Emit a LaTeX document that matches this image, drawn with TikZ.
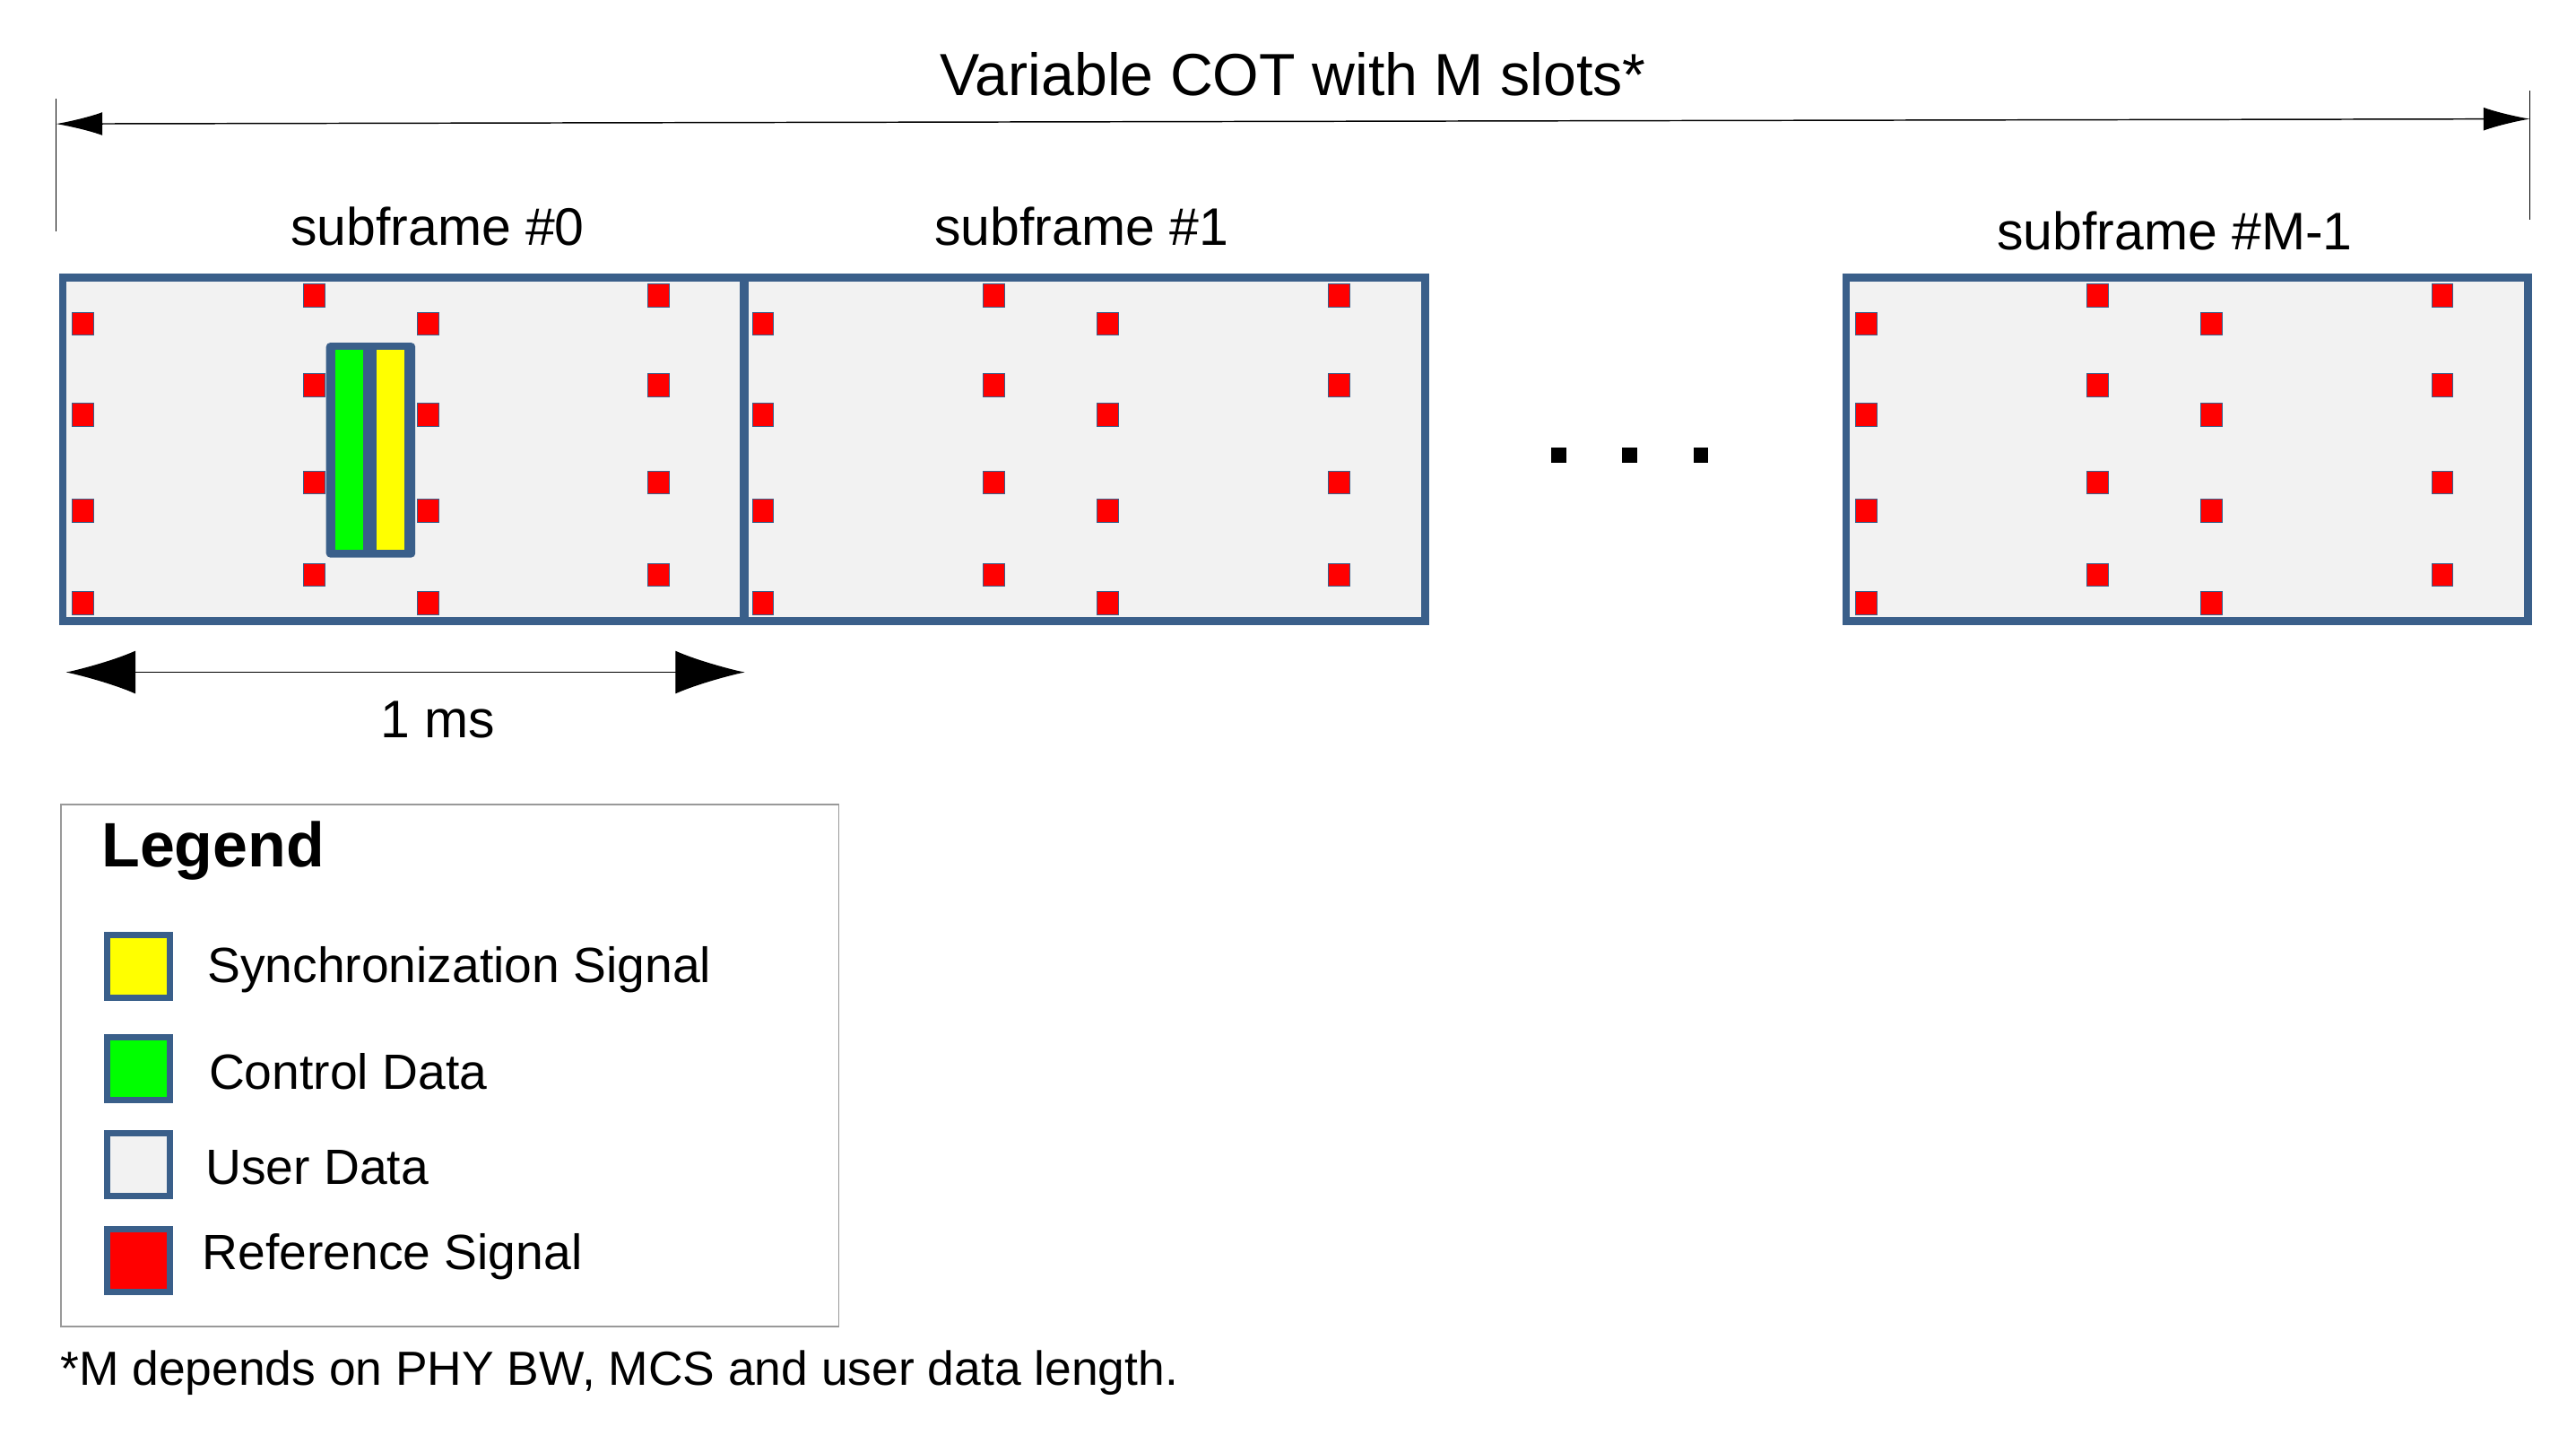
\documentclass[tikz,border=0pt]{standalone}
\usepackage{fontspec}
\setmainfont{Liberation Sans}
\usetikzlibrary{arrows.meta}
\definecolor{bd}{RGB}{58,95,138}
\definecolor{ud}{RGB}{242,242,242}
\definecolor{rs}{RGB}{255,0,0}
\definecolor{gr}{RGB}{0,255,0}
\definecolor{ye}{RGB}{255,255,0}
\begin{document}
\begin{tikzpicture}[x=1pt,y=-1pt,
  sf/.style={draw=bd,fill=ud,line width=4.5pt},
  rsq/.style={fill=rs,draw=bd,line width=0.4pt},
  sw/.style={draw=bd,line width=4pt,minimum width=38pt,minimum height=38pt,inner sep=0pt},
  lbl/.style={font=\fontsize{32}{36}\selectfont},
  lt/.style={font=\fontsize{30}{34}\selectfont,anchor=west}]
\useasboundingbox (0,0) rectangle (1560,874);
% subframes
\foreach \o/\n in {0/a,412/b,1080/c}{
  \draw[sf] (38+\o,168) rectangle (451+\o,376);
}
\foreach \o in {0,412,1080}{
  \foreach \y in {196,251,309,365}{
    \fill[rsq] (50+\o-6.5,\y-7) rectangle ++(13,14);
    \fill[rsq] (259+\o-6.5,\y-7) rectangle ++(13,14);}
  \foreach \y in {179,233,292,348}{
    \fill[rsq] (190+\o-6.5,\y-7) rectangle ++(13,14);
    \fill[rsq] (399+\o-6.5,\y-7) rectangle ++(13,14);}
}
\draw[bd,line width=4.5pt] (451,168) -- (451,376);
% sync block
\draw[draw=bd,fill=bd,line width=1pt,rounded corners=2pt] (198,208) rectangle (251,337);
\fill[gr] (203,212) rectangle (220,333);
\fill[ye] (228,212) rectangle (245,333);
% labels
\node[lbl] (t0) at (265,137) {subframe \#0};
\node[lbl] (t1) at (655,137) {subframe \#1};
\node[lbl] (t2) at (1317,140) {subframe \#M-1};
\node[font=\fontsize{36}{40}\selectfont] (title) at (783,45) {Variable COT with M slots*};
% top arrow
\coordinate (L) at (34,75); \coordinate (R) at (1532,72);
\draw[line width=0.6pt] (34,60) -- (34,140);
\draw[line width=0.6pt] (1532,55) -- (1532,133);
\draw[line width=0.8pt,{Latex[length=28pt,width=14pt]}-{Latex[length=28pt,width=14pt]}] (L) -- (R);
% dots
\foreach \x in {944,987,1030} \fill (\x-4.5,271) rectangle ++(9,9);
% 1 ms
\coordinate (A) at (40,407); \coordinate (B) at (451,407);
\draw[line width=0.8pt,{Latex[length=42pt,width=26pt]}-{Latex[length=42pt,width=26pt]}] (A) -- (B);
\node[lbl] (ms) at (265,436) {1 ms};
% legend
\draw[draw=gray!80,line width=0.8pt] (37,487) rectangle (508,803);
\node[anchor=west,font=\fontsize{38}{42}\selectfont\bfseries] (lg) at (58,515) {Legend};
\node[sw,fill=ye] (s1) at (84,585) {}; \node[lt] at (122,587) {Synchronization Signal};
\node[sw,fill=gr] (s2) at (84,647) {}; \node[lt] at (123,649) {Control Data};
\node[sw,fill=ud] (s3) at (84,705) {}; \node[lt] at (121,707) {User Data};
\node[sw,fill=rs] (s4) at (84,763) {}; \node[lt] at (119,761) {Reference Signal};
\node[anchor=west,font=\fontsize{29}{33}\selectfont] (fn) at (33,831) {*M depends on PHY BW, MCS and user data length.};
\end{tikzpicture}
\end{document}
